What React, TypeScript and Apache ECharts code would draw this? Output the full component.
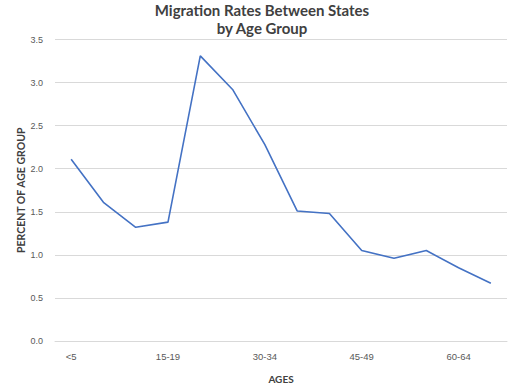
import React, { useEffect, useRef } from "react";
import * as echarts from "echarts";

const categories = ["<5", "5-9", "10-14", "15-19", "20-24", "25-29", "30-34", "35-39", "40-44", "45-49", "50-54", "55-59", "60-64", "65+"];
const rates = [2.11, 1.61, 1.32, 1.38, 3.31, 2.92, 2.28, 1.51, 1.48, 1.05, 0.96, 1.05, 0.85, 0.67];
const yTicks = { min: 0, max: 3.5, interval: 0.5 };
const titleText = "Migration Rates Between States\nby Age Group";
const xName = "AGES";
const yName = "PERCENT OF AGE GROUP";

export default function App() {
  const ref = useRef<HTMLDivElement>(null);
  useEffect(() => {
    document.body.style.margin = "0";
    if (!ref.current) return;
    const chart = echarts.init(ref.current, null, { renderer: "svg" });
    chart.setOption({
      animation: false,
      title: {
        text: titleText,
        left: 262,
        textAlign: "center",
        top: 0,
        padding: [1, 0, 0, 0],
        textStyle: {
          fontFamily: "Lato",
          fontWeight: "bold",
          fontSize: 15,
          lineHeight: 18,
          color: "#404040",
        },
      },
      grid: { left: 55, right: 5, top: 39.5, bottom: 47.5, containLabel: false },
      xAxis: {
        type: "category",
        data: categories,
        boundaryGap: true,
        name: xName,
        nameLocation: "middle",
        nameGap: 33,
        nameTextStyle: { fontFamily: "Lato", fontWeight: "bold", fontSize: 10, color: "#404040" },
        axisLine: { show: true, lineStyle: { color: "#d9d9d9", width: 1 } },
        axisTick: { show: false },
        axisLabel: { interval: 2, color: "#595959", fontFamily: "Liberation Sans", fontSize: 9.5, margin: 10 },
      },
      yAxis: {
        type: "value",
        min: yTicks.min,
        max: yTicks.max,
        interval: yTicks.interval,
        name: yName,
        nameLocation: "middle",
        nameGap: 29,
        nameMoveOverlap: false,
        nameTextStyle: { fontFamily: "Lato", fontWeight: "bold", fontSize: 10.5, color: "#404040" },
        axisLine: { show: false },
        axisTick: { show: false },
        axisLabel: {
          color: "#595959",
          fontFamily: "Liberation Sans",
          fontSize: 9,
          margin: 12,
          formatter: (v: number) => v.toFixed(1),
        },
        splitLine: { lineStyle: { color: "#d9d9d9", width: 1 } },
      },
      series: [
        {
          type: "line",
          data: rates,
          symbol: "none",
          lineStyle: { color: "#4472c4", width: 1.6 },
        },
      ],
    });
    return () => chart.dispose();
  }, []);
  return <div ref={ref} style={{ width: 512, height: 389 }} />;
}
